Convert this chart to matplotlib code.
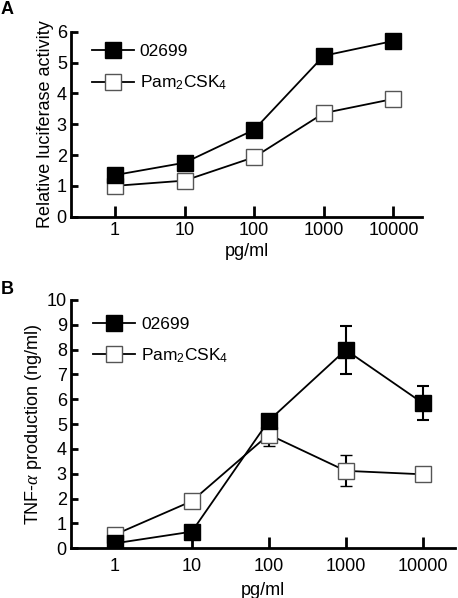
import matplotlib
matplotlib.use("Agg")
import matplotlib.pyplot as plt
from matplotlib.lines import Line2D

plt.rcParams['font.family'] = ['Liberation Sans', 'DejaVu Sans']
plt.rcParams['mathtext.fontset'] = 'custom'
plt.rcParams['mathtext.rm'] = 'Liberation Sans'
plt.rcParams['mathtext.it'] = 'Liberation Serif:italic'
plt.rcParams['mathtext.default'] = 'regular'

# ---- data ----
doses = ["1", "10", "100", "1000", "10000"]
series_names = ["02699", "Pam$_2$CSK$_4$"]

lucif_02699 = [1.35, 1.75, 2.82, 5.22, 5.70]
lucif_pam = [1.0, 1.17, 1.93, 3.36, 3.82]

tnf_02699 = [0.20, 0.67, 5.14, 7.99, 5.85]
tnf_02699_err = [0.0, 0.0, 0.0, 0.98, 0.70]
tnf_pam = [0.55, 1.90, 4.58, 3.12, 2.98]
tnf_pam_err = [0.0, 0.0, 0.45, 0.62, 0.0]

fig = plt.figure(figsize=(4.58, 5.98), dpi=100)
W, H = 458, 598

def make_ax(left, right, bottom_px, top_px):
    return fig.add_axes([left / W, (H - bottom_px) / H, (right - left) / W, (bottom_px - top_px) / H])

axA = make_ax(71, 422, 216.7, 31.7)
axB = make_ax(71, 455, 548.3, 300)

x = list(range(len(doses)))
ms = 12
fs = 13

def style(ax, ylim, yticks, ylabel, xpad, xpad_tick, xlabelpad):
    ax.set_ylim(*ylim)
    ax.set_xlim(*xpad)
    ax.set_xticks(x)
    ax.set_xticklabels(doses)
    ax.set_yticks(yticks)
    ax.set_yticklabels([str(t) for t in yticks])
    for s in ['top', 'right']:
        ax.spines[s].set_visible(False)
    for s in ['left', 'bottom']:
        ax.spines[s].set_linewidth(2)
    ax.tick_params(axis='x', direction='in', length=8, width=2, labelsize=fs, pad=xpad_tick)
    ax.tick_params(axis='y', direction='in', length=5, width=2, labelsize=fs, pad=3)
    ax.set_xlabel("pg/ml", fontsize=fs, labelpad=xlabelpad)
    ax.set_ylabel(ylabel, fontsize=fs, labelpad=2)

# Panel A
axA.plot(x, lucif_pam, '-', color='black', lw=1.3, marker='s', ms=ms, mfc='white',
         mec='#555555', mew=1, zorder=3)
axA.plot(x, lucif_02699, '-', color='black', lw=1.3, marker='s', ms=ms, mfc='black',
         mec='black', zorder=4)
style(axA, (0, 6), [0, 1, 2, 3, 4, 5, 6], "Relative luciferase activity", (-0.63, 4.41), 4, 3)

# Panel B
axB.errorbar(x, tnf_pam, yerr=tnf_pam_err, fmt='-', color='black', lw=1.3, marker='s',
             ms=ms, mfc='white', mec='#555555', mew=1, ecolor='black', elinewidth=1.5,
             capsize=4.5, capthick=1.5, zorder=3)
axB.errorbar(x, tnf_02699, yerr=tnf_02699_err, fmt='-', color='black', lw=1.3, marker='s',
             ms=ms, mfc='black', mec='black', ecolor='black', elinewidth=1.5,
             capsize=4.5, capthick=1.5, zorder=4)
style(axB, (0, 10), list(range(0, 11)), r"TNF-$\it{\alpha}$ production (ng/ml)", (-0.57, 4.42), 7, 5)

handles = [
    Line2D([], [], color='black', lw=1.3, marker='s', ms=ms, mfc='black', mec='black'),
    Line2D([], [], color='black', lw=1.3, marker='s', ms=ms, mfc='white', mec='#555555', mew=1),
]
for ax, top, sp in ((axA, 0.974, 0.87), (axB, 0.96, 0.8)):
    ax.legend(handles, series_names, loc='upper left', bbox_to_anchor=(0.04, top),
              frameon=False, fontsize=12.5, handlelength=2.4, handletextpad=0.35,
              labelspacing=sp, borderaxespad=0)

fig.text(1 / W, 1 - 9 / H, "A", fontsize=13, fontweight='bold', va='center', ha='left')
fig.text(1 / W, 1 - 290 / H, "B", fontsize=13, fontweight='bold', va='center', ha='left')

fig.savefig("out.png", dpi=100)
